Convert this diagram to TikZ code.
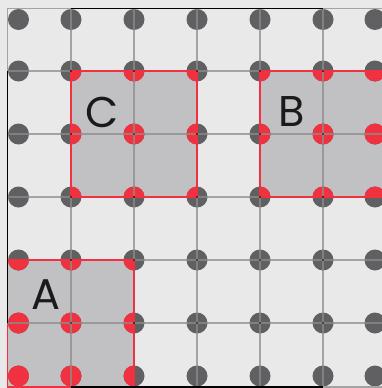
\documentclass[tikz,border=0pt]{standalone}
\usepackage{fontspec}
\setmainfont{Poppins}
\definecolor{bgc}{HTML}{E9E9E9}
\definecolor{regc}{HTML}{C1C1C3}
\definecolor{dotc}{HTML}{606063}
\definecolor{redc}{HTML}{F0313F}
\definecolor{gridc}{HTML}{8C8C8C}
\definecolor{txtc}{HTML}{1A1A1A}
\tikzset{
  gdot/.style={fill=dotc},
  rdot/.style={fill=redc},
  gridline/.style={draw=gridc, line width=1.5pt, draw opacity=0.75},
  regborder/.style={draw=redc, line width=1.2pt},
  framegray/.style={draw=gridc!80, line width=1.2pt},
  frameblack/.style={draw=black, line width=1.2pt},
  label/.style={text=txtc, inner sep=0pt, font=\fontsize{43}{43}\selectfont}
}
\newcommand{\alldots}[1]{%
  \foreach \xx in {18.5,71,134,197,260,323,375}{%
    \foreach \yy in {19.5,71,134,197,260,323,376}{%
      \fill[#1] (\xx,\yy) circle (10.5);
    }%
  }%
}
\begin{document}
\begin{tikzpicture}[x=1pt,y=-1pt]
\useasboundingbox (0,0) rectangle (382,388);
\fill[bgc] (0,0) rectangle (382,388);
% regions
\fill[regc] (7.5,260) rectangle (134,387);
\fill[regc] (260,71) rectangle (390,197);
\fill[regc] (71,71) rectangle (197,197);
% gray dots
\alldots{gdot}
% red dots inside regions
\begin{scope}
\clip (7.5,260) rectangle (134,390);
\alldots{rdot}
\end{scope}
\begin{scope}
\clip (260,71) rectangle (390,197);
\alldots{rdot}
\end{scope}
\begin{scope}
\clip (71,71) rectangle (197,197);
\alldots{rdot}
\end{scope}
% grid lines
\foreach \g in {71,134,197,260,323}{
  \draw[gridline] (\g,8.5) -- (\g,387);
  \draw[gridline] (7.5,\g) -- (390,\g);
}
% region borders
\draw[regborder] (7.5,260) rectangle (134,387);
\draw[regborder] (260,71) rectangle (390,197);
\draw[regborder] (71,71) rectangle (197,197);
% tiny intersection marks
\foreach \xx in {71,134,197,260,323}{
  \foreach \yy in {71,134,197,260,323}{
    \fill[black] (\xx,\yy) circle (0.8);
  }
}
% frame
\draw[framegray] (7.5,71) -- (7.5,8.5) -- (390,8.5);
\draw[framegray] (323,387) -- (390,387);
\draw[frameblack] (71,8.5) -- (323,8.5);
\draw[frameblack] (7.5,71) -- (7.5,323);
\draw[frameblack] (71,387) -- (323,387);
% labels
\node[label] (lc) at (102.5,112) {C};
\node[label] (lb) at (291.5,111.5) {B};
\node[label] (la) at (46,295) {A};
\end{tikzpicture}
\end{document}
